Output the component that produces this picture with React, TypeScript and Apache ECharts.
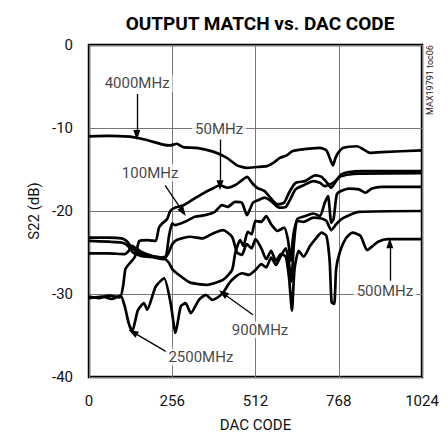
import React, { useEffect, useRef } from "react";
import * as echarts from "echarts";

// DAC code (x) vs S22 in dB (y)
const s4000: number[][] = [[0,-11],[60,-10.95],[126,-11.05],[150,-11.2],[178,-11.45],[228,-12.0],[249,-12.1],[270,-11.9],[290,-12.3],[331,-12.4],[382,-12.85],[424,-13.6],[455,-14.5],[485,-14.8],[516,-14.7],[547,-14.6],[567,-14.2],[587,-13.6],[608,-13.3],[625,-12.8],[650,-12.6],[710,-12.4],[730,-12.7],[742,-13.8],[750,-14.5],[758,-13.6],[766,-13.0],[781,-12.4],[824,-12.2],[845,-12.6],[864,-13.0],[900,-12.9],[1024,-12.7]];
const s50: number[][] = [[0,-30.3],[30,-30.5],[60,-30.2],[95,-30.4],[105,-29],[112,-27],[125,-26.3],[140,-25.6],[148,-24.5],[155,-23.6],[180,-23.5],[205,-23.6],[215,-22],[225,-21.5],[240,-21],[250,-20],[264,-19.6],[290,-19.3],[320,-18.6],[350,-17.9],[380,-17.3],[403,-16.9],[425,-17.2],[449,-16.9],[470,-16.3],[486,-15.9],[501,-16.6],[517,-17.2],[540,-17.6],[560,-18.5],[580,-19.2],[600,-19.0],[615,-17.8],[635,-16.6],[665,-16.4],[695,-15.7],[715,-15.9],[732,-16.6],[745,-17.2],[758,-16.5],[775,-15.6],[800,-15.3],[840,-15.2],[1024,-15.2]];
const s100: number[][] = [[0,-23.2],[60,-23.2],[100,-23.3],[115,-23.6],[130,-24.3],[150,-25.0],[175,-25.3],[200,-25.5],[225,-25.6],[237,-25.4],[246,-23],[256,-21.5],[264,-21.7],[295,-21.3],[326,-20.7],[357,-20.5],[387,-20.1],[409,-19.3],[427,-19.5],[449,-18.9],[470,-19.0],[486,-20.5],[504,-19.0],[520,-18.7],[540,-18.4],[560,-18.8],[585,-19.6],[605,-19.5],[620,-18.5],[635,-17.4],[660,-16.9],[690,-16.4],[710,-16.6],[725,-17.0],[740,-16.8],[755,-16.5],[770,-15.9],[800,-15.6],[830,-15.5],[1024,-15.45]];
const s500: number[][] = [[0,-23.6],[60,-23.7],[100,-23.8],[120,-24.2],[135,-25.0],[160,-25.4],[200,-25.6],[230,-25.8],[245,-25],[256,-24],[270,-23.5],[310,-23.1],[350,-23.3],[381,-22.7],[412,-22.3],[440,-23.1],[455,-25],[470,-25.3],[485,-24],[500,-24.5],[512,-23.4],[530,-24.5],[545,-25.8],[560,-24.8],[575,-26],[590,-25.2],[605,-25.5],[615,-28],[624,-32],[632,-27],[645,-24.8],[660,-25.5],[680,-24.2],[700,-23.2],[715,-22.6],[730,-23],[740,-26],[746,-31],[754,-31.2],[760,-27],[771,-25],[790,-23.3],[810,-22.6],[835,-23],[855,-24.7],[870,-24.3],[889,-23.7],[919,-23.4],[1024,-23.4]];
const s900: number[][] = [[0,-25.1],[60,-25.1],[110,-25.2],[122,-24.8],[132,-24.2],[145,-24.5],[165,-25],[200,-25.5],[230,-25.7],[245,-26.2],[256,-27],[270,-27.5],[310,-28.6],[362,-28.9],[412,-28.3],[440,-27.1],[450,-25],[465,-23.5],[475,-24.2],[488,-22.5],[500,-22.8],[512,-21.2],[530,-21.3],[545,-20.6],[560,-21.6],[580,-22.4],[600,-22],[612,-23.5],[620,-26],[628,-23],[640,-21.2],[660,-21.3],[690,-20.8],[715,-20.9],[730,-21.2],[745,-22.3],[760,-21.6],[775,-21],[800,-20.5],[830,-20.1],[1024,-20.0]];
const s2500: number[][] = [[0,-30.5],[40,-30.3],[70,-30.6],[97,-30.2],[110,-31.5],[122,-33.5],[133,-34.5],[150,-32],[169,-31.1],[179,-31.9],[205,-29.1],[231,-28.1],[251,-31.1],[266,-34.7],[282,-31.5],[297,-31.1],[313,-32.3],[338,-30.7],[359,-30.1],[379,-30.7],[400,-30.3],[415,-29.7],[431,-28.7],[451,-27.9],[471,-27.5],[492,-27.7],[512,-27.1],[530,-26.4],[545,-26.8],[560,-25.6],[575,-26.5],[590,-25.4],[605,-24.5],[614,-26],[622,-28.5],[630,-24],[640,-21],[665,-20.6],[690,-20.3],[710,-20.6],[725,-19.0],[735,-18.2],[745,-21.4],[752,-21],[762,-18],[775,-17.6],[800,-17.3],[830,-17.4],[850,-17.8],[870,-17.3],[900,-17.1],[1024,-17.1]];

const seriesNames = ["4000MHz", "50MHz", "100MHz", "500MHz", "900MHz", "2500MHz"];
const seriesData = [s4000, s50, s100, s500, s900, s2500];

const xTicks = [0, 256, 512, 768, 1024];
const yTicks = [-40, -30, -20, -10, 0];

// annotation labels (data coordinates) and their arrows
const annoText = ["4000MHz", "50MHz", "100MHz", "500MHz", "900MHz", "2500MHz"];
const annoPos: number[][] = [[148, -4.6], [400, -10.1], [188, -15.4], [910, -29.6], [526, -34.3], [344, -37.6]];
const arrowFrom: number[][] = [[147, -5.9], [403, -11.4], [234, -16.9], [925, -28.4], [504, -32.5], [240, -37.0]];
const arrowTo: number[][] = [[147, -10.85], [403, -16.9], [289, -20.1], [925, -23.9], [412, -29.9], [135, -34.6]];

const FONT = "Roboto, 'Liberation Sans', Arial, sans-serif";

export default function App() {
  const ref = useRef<HTMLDivElement>(null);
  useEffect(() => {
    if (!ref.current) return;
    const chart = echarts.init(ref.current, null, { renderer: "svg" });
    const lines = seriesData.map((d, i) => ({
      name: seriesNames[i],
      type: "line",
      data: d,
      showSymbol: false,
      smooth: 0.2,
      lineStyle: { color: "#000", width: 2.7 },
      itemStyle: { color: "#000" },
      z: 3,
    }));
    chart.setOption({
      animation: false,
      title: {
        text: "OUTPUT MATCH vs. DAC CODE",
        left: 255,
        textAlign: "center",
        top: 9,
        textStyle: { fontFamily: FONT, fontWeight: "bold", fontSize: 19, color: "#000" },
      },
      grid: {
        left: 89, right: 26, top: 45, bottom: 62,
        show: true, borderColor: "#000", borderWidth: 2.5, backgroundColor: "transparent",
      },
      xAxis: {
        type: "value", min: 0, max: 1024, interval: 256,
        name: "DAC CODE", nameLocation: "middle", nameGap: 40,
        nameTextStyle: { fontFamily: FONT, fontSize: 15, color: "#111" },
        axisLine: { show: false }, axisTick: { show: false },
        axisLabel: { fontFamily: FONT, fontSize: 15, color: "#111", margin: 16,
          customValues: xTicks, formatter: (v: number) => String(v) } as any,
        splitLine: { show: true, lineStyle: { color: "#777", width: 1 } },
      },
      yAxis: {
        type: "value", min: -40, max: 0, interval: 10,
        name: "S22 (dB)", nameLocation: "middle", nameGap: 38,
        nameTextStyle: { fontFamily: FONT, fontSize: 15, color: "#111" },
        axisLine: { show: false }, axisTick: { show: false },
        axisLabel: { fontFamily: FONT, fontSize: 15, color: "#111", margin: 16,
          customValues: yTicks, formatter: (v: number) => String(v) } as any,
        splitLine: { show: true, lineStyle: { color: "#777", width: 1 } },
      },
      graphic: [
        {
          type: "text", x: 430, y: 80, rotation: Math.PI / 2,
          style: { text: "MAX19791 toc06", font: "9px " + FONT, fill: "#222",
            textAlign: "center", textVerticalAlign: "middle", align: "center", verticalAlign: "middle" } as any,
        },
      ],
      series: [
        ...lines,
        {
          name: "annotations",
          type: "scatter",
          data: annoPos.map((p, i) => ({ value: p, name: annoText[i] })),
          symbolSize: 1,
          itemStyle: { color: "rgba(0,0,0,0)" },
          z: 5,
          label: {
            show: true, position: "inside", formatter: "{b}",
            fontFamily: FONT, fontSize: 15, color: "#111",
            backgroundColor: "#fff", padding: [1, 3],
          },
          markLine: {
            silent: true,
            symbol: ["none", "triangle"],
            symbolSize: [7, 10],
            label: { show: false },
            lineStyle: { color: "#000", width: 1.3, type: "solid" },
            data: arrowFrom.map((f, i) => [{ coord: f }, { coord: arrowTo[i] }]),
          },
        },
      ],
    } as any);
    return () => chart.dispose();
  }, []);
  return <div ref={ref} style={{ width: 448, height: 439, position: "absolute", left: 0, top: 0 }} />;
}
